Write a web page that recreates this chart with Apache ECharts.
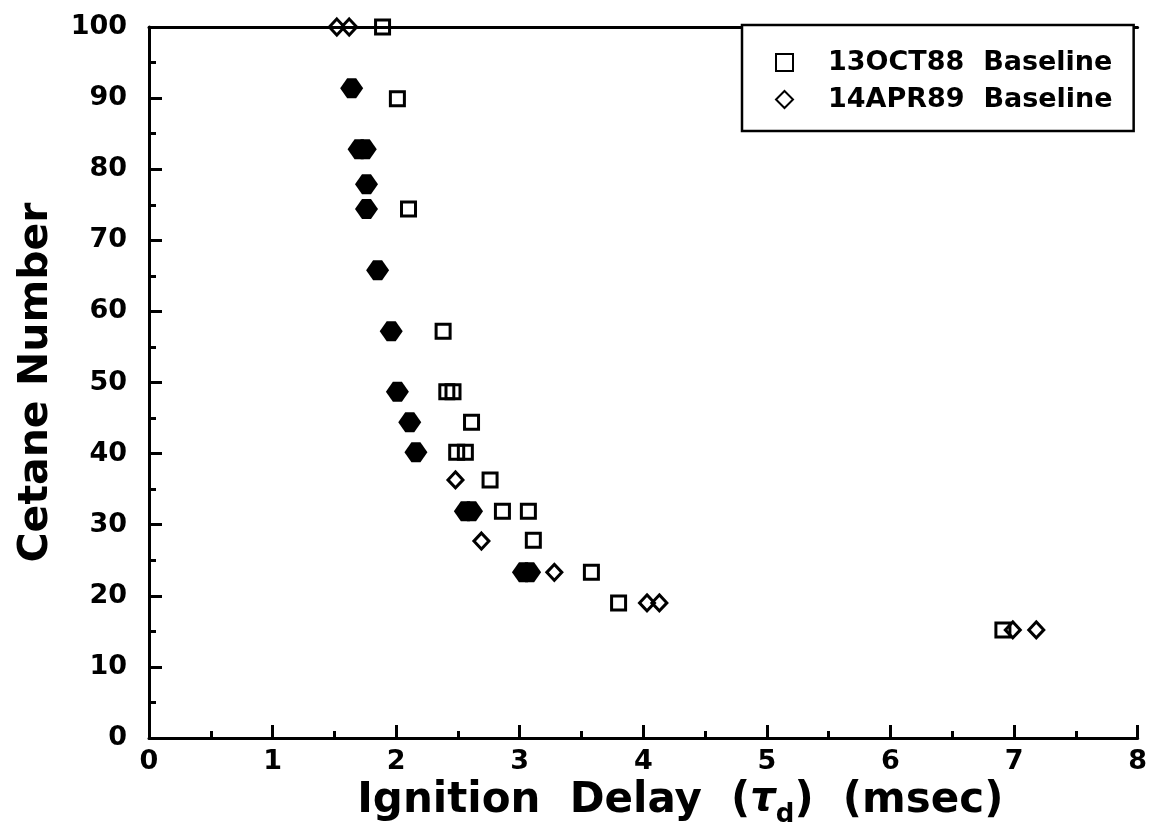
<!DOCTYPE html>
<html>
<head>
<meta charset="utf-8">
<script src="https://cdn.jsdelivr.net/npm/echarts@6/dist/echarts.min.js"></script>
<style>
  html, body { margin: 0; padding: 0; background: #fff; }
  #chart { width: 1150px; height: 833px; }
</style>
</head>
<body>
<div id="chart"></div>
<script>
// Ignition delay (msec) against cetane number for two baseline test series.
const oct88 = [
  [1.89, 100], [2.01, 89.9], [2.10, 74.4], [2.38, 57.2],
  [2.41, 48.7], [2.46, 48.7], [2.61, 44.4], [2.49, 40.2], [2.56, 40.2],
  [2.76, 36.3], [2.86, 31.9], [3.07, 31.9], [3.11, 27.8],
  [3.58, 23.3], [3.80, 19.0], [6.91, 15.2]
];
const apr89 = [
  [1.52, 100], [1.62, 100], [2.48, 36.3], [2.69, 27.7], [3.28, 23.3],
  [4.03, 19.0], [4.13, 19.0], [6.99, 15.2], [7.18, 15.2]
];
// 14APR89 repeat runs at one condition: the stacked outlines read as solid marks
const apr89Repeats = [
  [1.64, 91.4], [1.70, 82.8], [1.75, 82.8], [1.76, 77.9], [1.76, 74.4],
  [1.85, 65.8], [1.96, 57.2], [2.01, 48.7], [2.11, 44.4], [2.16, 40.2],
  [2.56, 31.9], [2.61, 31.9], [3.03, 23.3], [3.08, 23.3]
];
const seriesNames = ['13OCT88  Baseline', '14APR89  Baseline'];
const xRange = [0, 8];
const yRange = [0, 100];

const FONT = 'DejaVu Sans';
const INK = '#000';

const chart = echarts.init(document.getElementById('chart'), null, { renderer: 'canvas' });

const axisCommon = {
  axisLine: { show: true, lineStyle: { color: INK, width: 3 } },
  axisTick: { show: true, inside: true, length: 13, lineStyle: { color: INK, width: 3 } },
  minorTick: { show: true, splitNumber: 2, length: 7, lineStyle: { color: INK, width: 3 } },
  splitLine: { show: false },
  axisLabel: { color: INK, fontFamily: FONT, fontWeight: 'bold', fontSize: 27 }
};

const openMarker = {
  color: 'rgba(0,0,0,0)',
  borderColor: INK,
  borderWidth: 3,
  opacity: 1
};

chart.setOption({
  backgroundColor: '#fff',
  animation: false,
  grid: { left: 149, right: 12, top: 27, bottom: 95, containLabel: false },
  xAxis: [
    Object.assign({}, axisCommon, {
      type: 'value', min: xRange[0], max: xRange[1], interval: 1,
      axisLabel: Object.assign({}, axisCommon.axisLabel, { margin: 10 }),
      name: '{m|Ignition  Delay  (}{t|\u03c4}{s|d}{m|)  (msec)}',
      nameLocation: 'middle',
      nameGap: 15,
      nameTextStyle: {
        padding: [0, 0, 0, 74],
        rich: {
          m: { fontFamily: FONT, fontWeight: 'bold', fontSize: 42, color: INK, verticalAlign: 'top', lineHeight: 44 },
          t: { fontFamily: FONT, fontWeight: 'bold', fontStyle: 'italic', fontSize: 40, color: INK, verticalAlign: 'top', lineHeight: 44 },
          s: { fontFamily: FONT, fontWeight: 'bold', fontSize: 26, color: INK, verticalAlign: 'top', padding: [22, 0, 0, 0] }
        }
      }
    }),
    {
      type: 'value', position: 'top', min: xRange[0], max: xRange[1],
      axisLine: { show: true, onZero: false, lineStyle: { color: INK, width: 3 } },
      axisTick: { show: false }, axisLabel: { show: false }, splitLine: { show: false }
    }
  ],
  yAxis: Object.assign({}, axisCommon, {
    type: 'value', min: yRange[0], max: yRange[1], interval: 10,
    axisLabel: Object.assign({}, axisCommon.axisLabel, { margin: 22 }),
    name: 'Cetane Number',
    nameLocation: 'middle',
    nameGap: 92,
    nameTextStyle: { fontFamily: FONT, fontWeight: 'bold', fontSize: 41, color: INK }
  }),
  legend: {
    data: seriesNames,
    orient: 'vertical',
    left: 742,
    top: 25,
    padding: [24, 21, 18, 33],
    itemGap: 10,
    itemWidth: 17,
    itemHeight: 17,
    backgroundColor: '#fff',
    borderColor: INK,
    borderWidth: 2.5,
    borderRadius: 0,
    selectedMode: false,
    itemStyle: { opacity: 1 },
    textStyle: { color: INK, fontFamily: FONT, fontWeight: 'bold', fontSize: 27, padding: [0, 0, 0, 30] },
    z: 10
  },
  series: [
    {
      name: seriesNames[0], type: 'scatter', symbol: 'rect', symbolSize: 14,
      itemStyle: openMarker, data: oct88, z: 3
    },
    {
      name: seriesNames[1], type: 'scatter', symbol: 'diamond', symbolSize: [15, 16],
      itemStyle: openMarker, data: apr89, z: 3
    },
    {
      name: seriesNames[1], type: 'scatter',
      symbol: 'path://M0,10L7,0L16,0L23,10L16,20L7,20Z', symbolSize: [23, 20],
      itemStyle: { color: INK, borderWidth: 0, opacity: 1 }, data: apr89Repeats, z: 2
    }
  ]
});
</script>
</body>
</html>
